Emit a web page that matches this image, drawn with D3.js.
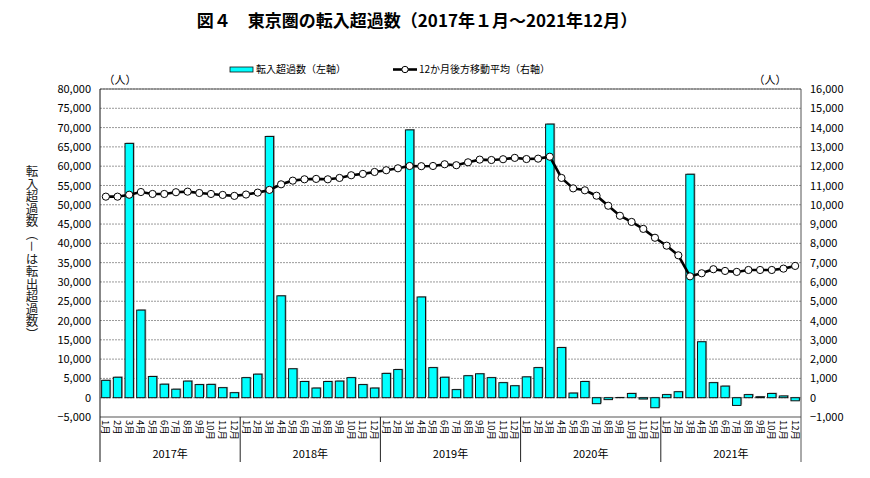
<!DOCTYPE html>
<html>
<head>
<meta charset="utf-8">
<script src="https://cdn.jsdelivr.net/npm/d3@7"></script>
<style>
  body { margin: 0; background: #fff; }
  svg { display: block; font-family: "Noto Sans CJK JP", sans-serif; }
</style>
</head>
<body>
<div id="chart"></div>
<script>
const YEARS = ["2017年", "2018年", "2019年", "2020年", "2021年"];
const MONTHS = ["1月", "2月", "3月", "4月", "5月", "6月", "7月", "8月", "9月", "10月", "11月", "12月"];

// 転入超過数（左軸）, 2017/1 - 2021/12
const netInflow = [
  4500, 5300, 65900, 22700, 5500, 3500, 2200, 4300, 3400, 3450, 2600, 1300,
  5200, 6100, 67700, 26400, 7500, 4200, 2500, 4200, 4300, 5200, 3400, 2500,
  6300, 7300, 69400, 26100, 7800, 5300, 2100, 5700, 6200, 5200, 3900, 3100,
  5400, 7800, 70900, 13000, 1200, 4200, -1550, -500, 50, 1100, -350, -2600,
  800, 1550, 57900, 14500, 3900, 3000, -2000, 800, 250, 1100, 450, -800
];

// 12か月後方移動平均（右軸）
const movingAvg = [
  10420, 10420, 10520, 10660, 10560, 10560, 10650, 10680, 10610, 10560, 10510, 10460,
  10530, 10630, 10770, 11060, 11250, 11320, 11340, 11320, 11390, 11530, 11600, 11700,
  11790, 11890, 12010, 12000, 12010, 12100, 12050, 12200, 12340, 12320, 12360, 12430,
  12370, 12390, 12490, 11390, 10850, 10750, 10470, 9950, 9430, 9110, 8750, 8290,
  7880, 7380, 6290, 6450, 6660, 6570, 6520, 6620, 6620, 6620, 6690, 6830
];

const leftTicks = d3.range(-5000, 80001, 5000);
const rightTicks = d3.range(-1000, 16001, 1000);

const W = 870, H = 478;
const plotL = 100, plotR = 801, plotT = 89, plotB = 417;

const svg = d3.select("#chart").append("svg")
  .attr("width", W).attr("height", H);

const months = d3.range(netInflow.length);
const x = d3.scaleBand().domain(months).range([plotL, plotR])
  .paddingInner(0.28).paddingOuter(0.14);
const step = (plotR - plotL) / months.length;
const yL = d3.scaleLinear().domain([-5000, 80000]).range([plotB, plotT]);
const yR = d3.scaleLinear().domain([-1000, 16000]).range([plotB, plotT]);
const cx = i => x(i) + x.bandwidth() / 2;

// title
svg.append("text")
  .attr("x", 417).attr("y", 27)
  .attr("text-anchor", "middle")
  .attr("font-size", "17px").attr("font-weight", "bold")
  .text("図４　東京圏の転入超過数（2017年１月～2021年12月）");

// gridlines
svg.append("g").selectAll("line")
  .data(leftTicks.filter(d => d > -5000))
  .join("line")
  .attr("x1", plotL).attr("x2", plotR)
  .attr("y1", d => yL(d)).attr("y2", d => yL(d))
  .attr("stroke", "#9a9a9a")
  .attr("stroke-dasharray", "2,1");

// bottom line of plot
svg.append("line")
  .attr("x1", plotL).attr("x2", plotR)
  .attr("y1", plotB).attr("y2", plotB)
  .attr("stroke", "#8c8c8c").attr("stroke-width", 1.5);

// bars with a little shadow
const bars = svg.append("g");
bars.selectAll("rect.shadow")
  .data(netInflow)
  .join("rect")
  .attr("class", "shadow")
  .attr("x", (d, i) => x(i) + 1.2)
  .attr("y", d => Math.min(yL(d), yL(0)) - 0.8)
  .attr("width", x.bandwidth())
  .attr("height", d => Math.abs(yL(d) - yL(0)))
  .attr("fill", "#a0a0a0");
bars.selectAll("rect.bar")
  .data(netInflow)
  .join("rect")
  .attr("class", "bar")
  .attr("x", (d, i) => x(i))
  .attr("y", d => Math.min(yL(d), yL(0)))
  .attr("width", x.bandwidth())
  .attr("height", d => Math.abs(yL(d) - yL(0)))
  .attr("fill", "#00ffff")
  .attr("stroke", "#111")
  .attr("stroke-width", 1);

// moving average line
const line = d3.line().x((d, i) => cx(i)).y(d => yR(d));
svg.append("path")
  .datum(movingAvg)
  .attr("d", line)
  .attr("fill", "none")
  .attr("stroke", "#000")
  .attr("stroke-width", 2.6);
svg.append("g").selectAll("circle")
  .data(movingAvg)
  .join("circle")
  .attr("cx", (d, i) => cx(i))
  .attr("cy", d => yR(d))
  .attr("r", 3.6)
  .attr("fill", "#fff")
  .attr("stroke", "#000")
  .attr("stroke-width", 1);

// axes
const fmt = d3.format(",");
const axL = svg.append("g")
  .attr("transform", `translate(${plotL},0)`)
  .call(d3.axisLeft(yL).tickValues(leftTicks).tickFormat(fmt).tickSize(0).tickPadding(9));
const axR = svg.append("g")
  .attr("transform", `translate(${plotR},0)`)
  .call(d3.axisRight(yR).tickValues(rightTicks).tickFormat(fmt).tickSize(0).tickPadding(9));
[axL, axR].forEach(a => {
  a.select(".domain").remove();
  a.selectAll("text").attr("font-size", "11px").attr("fill", "#000")
    .attr("font-family", "\"Noto Sans CJK JP\", sans-serif");
});

// plot frame
svg.append("line").attr("x1", plotL).attr("x2", plotR).attr("y1", plotT).attr("y2", plotT)
  .attr("stroke", "#555");
svg.append("line").attr("x1", plotL).attr("x2", plotL).attr("y1", plotT).attr("y2", 462)
  .attr("stroke", "#111");
svg.append("line").attr("x1", plotR).attr("x2", plotR).attr("y1", plotT).attr("y2", 462)
  .attr("stroke", "#555");

// year separators
svg.append("g").selectAll("line")
  .data(d3.range(1, YEARS.length))
  .join("line")
  .attr("x1", k => plotL + k * 12 * step).attr("x2", k => plotL + k * 12 * step)
  .attr("y1", plotB).attr("y2", 462)
  .attr("stroke", "#222");

// month labels (rotated)
svg.append("g").selectAll("text")
  .data(months)
  .join("text")
  .attr("transform", i => `translate(${cx(i) - 3.5},420) rotate(90)`)
  .attr("font-size", "9.5px")
  .text(i => MONTHS[i % 12]);

// year labels
svg.append("g").selectAll("text")
  .data(YEARS)
  .join("text")
  .attr("x", (d, k) => plotL + (k + 0.5) * 12 * step)
  .attr("y", 458)
  .attr("text-anchor", "middle")
  .attr("font-size", "11px")
  .text(d => d);

// unit labels
svg.append("text").attr("x", 120).attr("y", 84).attr("text-anchor", "middle")
  .attr("font-size", "11px").text("（人）");
svg.append("text").attr("x", 770).attr("y", 84).attr("text-anchor", "middle")
  .attr("font-size", "11px").text("（人）");

// vertical y-axis title
svg.append("text")
  .attr("x", 32).attr("y", 165)
  .attr("writing-mode", "tb")
  .attr("font-size", "12.5px")
  .attr("fill", "#222")
  .text("転入超過数（－は転出超過数）");

// legend
const lg = svg.append("g");
lg.append("rect").attr("x", 230).attr("y", 67).attr("width", 23).attr("height", 5)
  .attr("fill", "#00ffff").attr("stroke", "#111").attr("stroke-width", 0.8);
lg.append("text").attr("x", 256).attr("y", 73).attr("font-size", "10px")
  .text("転入超過数（左軸）");
lg.append("line").attr("x1", 393).attr("x2", 417).attr("y1", 69.5).attr("y2", 69.5)
  .attr("stroke", "#000").attr("stroke-width", 2.6);
lg.append("circle").attr("cx", 405).attr("cy", 69.5).attr("r", 3.2)
  .attr("fill", "#fff").attr("stroke", "#000");
lg.append("text").attr("x", 419).attr("y", 73).attr("font-size", "10px")
  .text("12か月後方移動平均（右軸）");
</script>
</body>
</html>
